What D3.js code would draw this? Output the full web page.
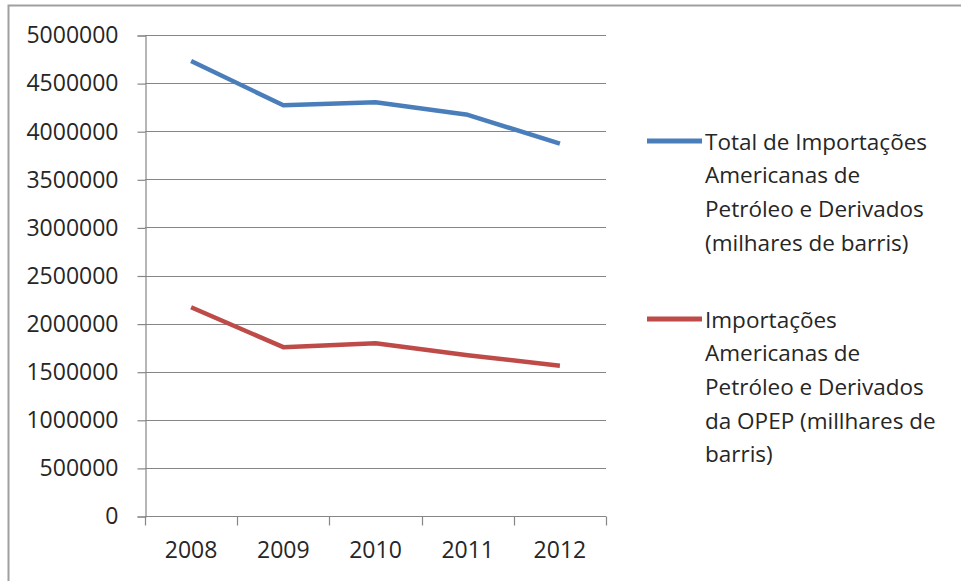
<!DOCTYPE html>
<html>
<head>
<meta charset="utf-8">
<script src="https://cdn.jsdelivr.net/npm/d3@7"></script>
<style>
  html, body { margin: 0; padding: 0; background: #fff; }
  svg { display: block; }
  text { font-family: "Open Sans", "DejaVu Sans", sans-serif; fill: #262626; }
</style>
</head>
<body>
<svg id="chart" width="961" height="581"></svg>
<script>
const years = ["2008", "2009", "2010", "2011", "2012"];
const totalImports = [4730000, 4270000, 4300000, 4170000, 3870000];
const opecImports = [2170000, 1755000, 1795000, 1672000, 1562000];
const yTicks = [0, 500000, 1000000, 1500000, 2000000, 2500000, 3000000, 3500000, 4000000, 4500000, 5000000];
const seriesNames = [
  ["Total de Importações", "Americanas de", "Petróleo e Derivados", "(milhares de barris)"],
  ["Importações", "Americanas de", "Petróleo e Derivados", "da OPEP  (millhares de", "barris)"]
];
const seriesColors = ["#4a7ebb", "#be4b48"];

const svg = d3.select("#chart");
const plot = { left: 145, right: 606, top: 35, bottom: 516 };

// outer frame
svg.append("rect").attr("x", 8.5).attr("y", 5.5).attr("width", 980).attr("height", 600)
  .attr("fill", "#fff").attr("stroke", "#a0a0a0").attr("stroke-width", 2);

const x = d3.scaleBand().domain(years).range([plot.left, plot.right]).padding(0);
const y = d3.scaleLinear().domain([0, 5000000]).range([plot.bottom, plot.top]);

// gridlines
svg.append("g").selectAll("line").data(yTicks.filter(d => d > 0)).join("line")
  .attr("x1", plot.left).attr("x2", plot.right)
  .attr("y1", d => Math.round(y(d)) + 0.5).attr("y2", d => Math.round(y(d)) + 0.5)
  .attr("stroke", "#868686").attr("stroke-width", 1.2);

// y axis
const yAxis = d3.axisLeft(y).tickValues(yTicks).tickSize(8).tickPadding(19).tickFormat(d3.format("d"));
const gy = svg.append("g").attr("transform", `translate(${plot.left + 0.5},0.5)`).call(yAxis);
gy.select(".domain").attr("stroke", "#868686").attr("stroke-width", 1.2);
gy.selectAll(".tick line").attr("stroke", "#868686").attr("stroke-width", 1.2);
gy.selectAll(".tick text").style("font-size", "23px").style("font-family", '"Open Sans", sans-serif').attr("fill", "#262626");

// x axis
const xAxis = d3.axisBottom(x).tickSize(0).tickPadding(25);
const gx = svg.append("g").attr("transform", `translate(0,${plot.bottom + 0.5})`).call(xAxis);
gx.select(".domain").remove();
gx.append("line").attr("x1", plot.left).attr("x2", plot.right).attr("y1", 0).attr("y2", 0)
  .attr("stroke", "#868686").attr("stroke-width", 1.2);
const bounds = years.map(d => x(d)).concat([x(years[years.length - 1]) + x.bandwidth()]);
gx.selectAll(".btick").data(bounds).join("line").attr("class", "btick")
  .attr("x1", d => Math.round(d) + 0.5).attr("x2", d => Math.round(d) + 0.5)
  .attr("y1", 0).attr("y2", 9).attr("stroke", "#868686").attr("stroke-width", 1.2);
gx.selectAll(".tick text").style("font-size", "23px").style("font-family", '"Open Sans", sans-serif').attr("fill", "#262626");

// lines
const line = d3.line().x((d, i) => x(years[i]) + x.bandwidth() / 2).y(d => y(d));
[totalImports, opecImports].forEach((s, k) => {
  svg.append("path").datum(s).attr("d", line).attr("fill", "none")
    .attr("stroke", seriesColors[k]).attr("stroke-width", 4.5)
    .attr("stroke-linejoin", "round").attr("stroke-linecap", "butt");
});

// legend
const legendTop = [141, 319];
const lh = 33.7;
seriesNames.forEach((lines, k) => {
  const g = svg.append("g");
  g.append("line").attr("x1", 647).attr("x2", 702).attr("y1", legendTop[k]).attr("y2", legendTop[k])
    .attr("stroke", seriesColors[k]).attr("stroke-width", 5);
  lines.forEach((t, j) => {
    g.append("text").attr("x", 705).attr("y", legendTop[k] + j * lh)
      .attr("dominant-baseline", "central").style("font-size", "22.5px").text(t);
  });
});
</script>
</body>
</html>
